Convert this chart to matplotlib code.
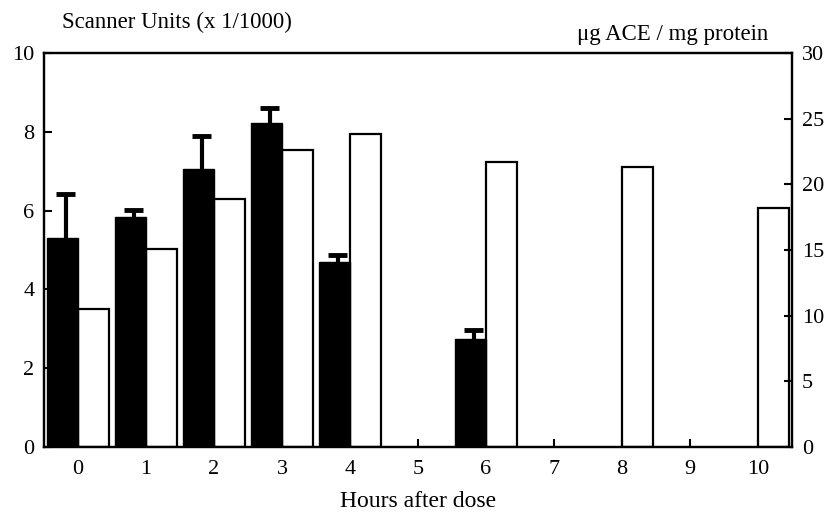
import numpy as np
import matplotlib.pyplot as plt

plt.rcParams['font.family'] = ['Liberation Serif', 'DejaVu Serif']

hours = np.arange(0, 11)
# scanner units (x 1/1000), black bars with upper error
scan_hours = np.array([0, 1, 2, 3, 4, 6])
scan_vals = np.array([5.3, 5.84, 7.05, 8.22, 4.7, 2.74])
scan_err = np.array([1.12, 0.18, 0.85, 0.38, 0.17, 0.23])
# ug ACE / mg protein, white bars on the right axis
ace_hours = [0, 1, 2, 3, 4, 6, 8, 10]
ace_vals = [10.5, 15.1, 18.9, 22.6, 23.8, 21.7, 21.3, 18.2]

fig = plt.figure(figsize=(8.33, 5.13), dpi=100)
ax = fig.add_axes([44/833, 1-447/513, 748/833, 394/513])
ax2 = ax.twinx()

w = 0.46
cap = 0.28
ax.bar(scan_hours, scan_vals, width=-w, align='edge', color='black', edgecolor='black', linewidth=1, zorder=3)
# upper error only: stem plus cap
xc = scan_hours - w/2 + 0.05
ax.vlines(xc, scan_vals, scan_vals + scan_err, color='black', linewidth=3, zorder=4)
ax.hlines(scan_vals + scan_err, xc - cap/2, xc + cap/2, color='black', linewidth=3.5, zorder=4)
ax2.bar(ace_hours, ace_vals, width=w, align='edge', color='white', edgecolor='black', linewidth=1.6)

ax.set_zorder(ax2.get_zorder() + 1)
ax.patch.set_visible(False)

ax.set_xlim(-0.5, 10.5)
ax.set_ylim(0, 10)
ax2.set_ylim(0, 30)
ax.set_xticks(hours)
ax.set_yticks([0, 2, 4, 6, 8, 10])
ax2.set_yticks([0, 5, 10, 15, 20, 25, 30])

for a in (ax, ax2):
    for s in a.spines.values():
        s.set_linewidth(1.6)
    a.tick_params(direction='in', length=6, width=1.5, labelsize=16, pad=7)
ax.tick_params(axis='x', pad=9)

ax.set_xlabel('Hours after dose', fontsize=17, labelpad=9)
fig.text(62/833, 1-22/513, 'Scanner Units (x 1/1000)', fontsize=16.5, va='center', ha='left')
fig.text(768/833, 1-35/513, 'μg ACE / mg protein', fontsize=16.5, va='center', ha='right')

fig.savefig('out.png', dpi=100)
